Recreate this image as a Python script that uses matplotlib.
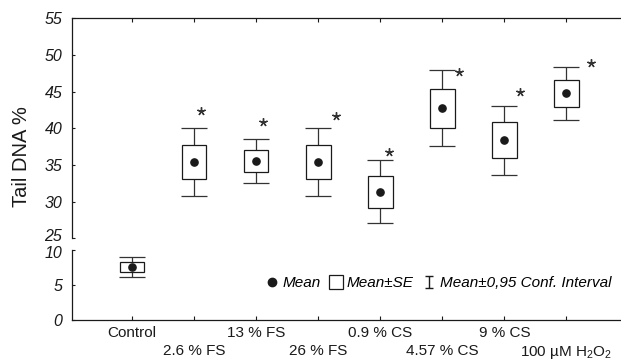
import numpy as np
import matplotlib
matplotlib.use("Agg")
from matplotlib import pyplot as plt
from matplotlib.lines import Line2D
from matplotlib.path import Path
import matplotlib.transforms as mtransforms

plt.rcParams['font.family'] = ['Liberation Sans', 'DejaVu Sans']
plt.rcParams['mathtext.fontset'] = 'custom'
plt.rcParams['mathtext.rm'] = 'Liberation Sans'
plt.rcParams['mathtext.it'] = 'Liberation Sans:italic'

labels = ["Control", "2.6 % FS", "13 % FS", "26 % FS", "0.9 % CS",
          "4.57 % CS", "9 % CS", "100 \u00b5M H$_2$O$_2$"]
means = [7.55, 35.4, 35.6, 35.4, 31.35, 42.8, 38.4, 44.8]
se_lo = [6.85, 33.1, 34.1, 33.1, 29.2, 40.1, 36.0, 42.9]
se_hi = [8.3, 37.7, 37.1, 37.7, 33.5, 45.35, 40.8, 46.6]
ci_lo = [6.1, 30.8, 32.6, 30.8, 27.1, 37.6, 33.6, 41.2]
ci_hi = [9.05, 40.0, 38.6, 40.0, 35.7, 47.9, 43.1, 48.4]
# significance stars (x in category units, y in Tail DNA %)
star_x = [1.12, 2.11, 3.28, 4.14, 5.27, 6.26, 7.40]
star_y = [42.3, 40.9, 41.7, 36.8, 47.7, 44.9, 48.9]

x = np.arange(len(labels))
means = np.array(means)
se_lo = np.array(se_lo); se_hi = np.array(se_hi)
ci_lo = np.array(ci_lo); ci_hi = np.array(ci_hi)

ink = '#1a1a1a'
fig = plt.figure(figsize=(6.21, 3.61), dpi=100)
W, H = 621.0, 361.0
left = 72 / W
ax_top = fig.add_axes([left, 1 - 238.3 / H, 1 - left - 0.001, (238.3 - 18.3) / H])
ax_bot = fig.add_axes([left, 1 - 320 / H, 1 - left - 0.001, (320 - 250) / H])

for ax in (ax_top, ax_bot):
    yerr = [means - ci_lo, ci_hi - means]
    ax.errorbar(x, means, yerr=yerr, fmt='none', ecolor='#333333', elinewidth=0.9,
                capsize=9.5, capthick=0.9, zorder=1)
    ax.bar(x, se_hi - se_lo, bottom=se_lo, width=0.4, color='white',
           edgecolor=ink, linewidth=0.9, zorder=2)
    ax.plot(x, means, 'o', color=ink, markersize=5.2, zorder=3)
    ax.set_xlim(-0.966, 7.87)
    ax.spines['right'].set_visible(False)
    for s in ax.spines.values():
        s.set_linewidth(0.9)
        s.set_color(ink)

ax_top.plot(star_x, star_y, linestyle='none', marker=(5, 2, 0), markersize=6,
            markeredgewidth=1.0, color='#333333')

ax_top.set_ylim(25, 55)
ax_top.set_yticks([25, 30, 35, 40, 45, 50, 55])
ax_top.spines['bottom'].set_visible(False)
ax_top.xaxis.tick_top()
ax_top.set_xticks(x)
ax_top.tick_params(axis='x', direction='in', length=3, width=0.8, labeltop=False, colors=ink)

ax_bot.set_ylim(0, 10)
ax_bot.set_yticks([0, 5, 10])
ax_bot.spines['top'].set_visible(False)
ax_bot.set_xticks(x)
ax_bot.set_xticklabels(labels, fontsize=11)
ax_bot.tick_params(axis='x', direction='in', length=3, width=0.8, pad=4, colors=ink)
for i, tick in enumerate(ax_bot.xaxis.get_major_ticks()):
    if i % 2 == 1:
        tick.set_pad(17.5)

for ax in (ax_top, ax_bot):
    ax.tick_params(axis='y', direction='in', length=2.5, width=0.8, pad=7,
                   labelsize=11.5, colors=ink)
    for t in ax.get_yticklabels():
        t.set_fontstyle('italic')

# nudge the labels at the axis break apart
lab25 = ax_top.get_yticklabels()[0]
lab25.set_transform(lab25.get_transform() + mtransforms.ScaledTranslation(0, 3 / 100, fig.dpi_scale_trans))
lab10 = ax_bot.get_yticklabels()[-1]
lab10.set_transform(lab10.get_transform() + mtransforms.ScaledTranslation(0, -2 / 100, fig.dpi_scale_trans))

fig.text(22 / W, 1 - 157 / H, "Tail DNA %", rotation=90, ha='center', va='center',
         fontsize=14.5, color=ink)

# legend
ibeam = Path([(-0.6, 1), (0.6, 1), (0, 1), (0, -1), (-0.6, -1), (0.6, -1)],
             [Path.MOVETO, Path.LINETO, Path.MOVETO, Path.LINETO, Path.MOVETO, Path.LINETO])
handles = [Line2D([], [], ls='none', marker='o', color=ink, markersize=6),
           Line2D([], [], ls='none', marker='s', mfc='white', mec=ink, markersize=9.5, mew=0.9),
           Line2D([], [], ls='none', marker=ibeam, color=ink, markersize=9, mew=1.0)]
ax_bot.legend(handles, ["Mean", "Mean\u00b1SE", "Mean\u00b10,95 Conf. Interval"],
              loc='center right', bbox_to_anchor=(1.0, 0.53), ncol=3, frameon=False,
              handlelength=0.8, handletextpad=0.3, columnspacing=0.6,
              prop={'size': 11, 'style': 'italic'}, borderaxespad=0.2)

fig.savefig("out.png", dpi=100)
